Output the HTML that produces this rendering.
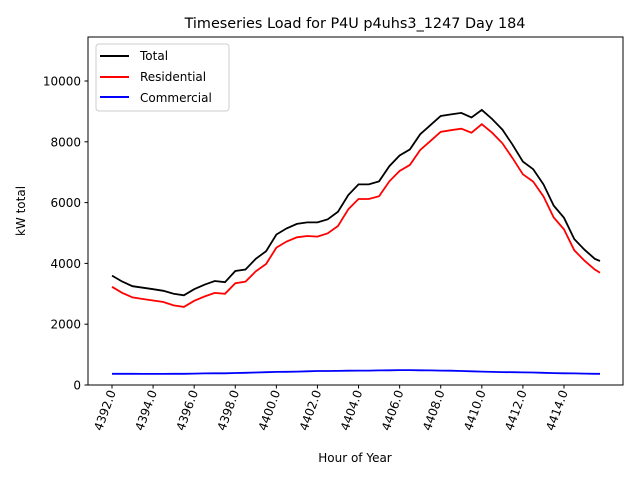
<!DOCTYPE html>
<html><head><meta charset="utf-8"><style>
body{margin:0;background:#fff;}
svg{display:block;font-family:"DejaVu Sans","Liberation Sans",sans-serif;}
</style></head><body>
<svg id="chart" width="640" height="480">
<text x="355" y="28" font-size="14.4" text-anchor="middle">Timeseries Load for P4U p4uhs3_1247  Day 184</text>
<g id="plot"></g>
<rect x="88" y="37" width="535" height="348" fill="none" stroke="#000" stroke-width="1"/>
<text x="355" y="462" font-size="12" text-anchor="middle">Hour of Year</text>
<text transform="translate(25,211) rotate(-90)" font-size="12" text-anchor="middle">kW total</text>
<g>
<rect x="96" y="44" width="133" height="67" rx="3" fill="#fff" fill-opacity="0.8" stroke="#ccc"/>
<line x1="100" y1="56" x2="129" y2="56" stroke="#000" stroke-width="2"/>
<text x="140" y="60" font-size="12">Total</text>
<line x1="100" y1="77" x2="129" y2="77" stroke="red" stroke-width="2"/>
<text x="140" y="81" font-size="12">Residential</text>
<line x1="100" y1="97" x2="129" y2="97" stroke="blue" stroke-width="2"/>
<text x="140" y="102" font-size="12">Commercial</text>
</g>
</svg>
<script>
const hours=[4392,4392.5,4393,4393.5,4394,4394.5,4395,4395.5,4396,4396.5,4397,4397.5,4398,4398.5,4399,4399.5,4400,4400.5,4401,4401.5,4402,4402.5,4403,4403.5,4404,4404.5,4405,4405.5,4406,4406.5,4407,4407.5,4408,4408.5,4409,4409.5,4410,4410.5,4411,4411.5,4412,4412.5,4413,4413.5,4414,4414.5,4415,4415.5,4415.75];
const total=[3600,3400,3250,3200,3150,3100,3000,2950,3150,3300,3420,3380,3750,3800,4150,4400,4950,5150,5300,5350,5350,5450,5700,6250,6600,6600,6700,7200,7550,7750,8250,8550,8850,8900,8950,8800,9050,8750,8400,7900,7350,7100,6600,5900,5500,4800,4450,4150,4080];
const residential=[3230,3030,2880,2830,2780,2730,2620,2570,2770,2910,3030,3000,3350,3400,3740,3980,4520,4720,4860,4900,4880,4990,5230,5780,6120,6120,6210,6700,7040,7240,7730,8030,8330,8380,8430,8300,8580,8300,7950,7460,6930,6690,6200,5510,5120,4430,4090,3800,3690];
const commercial=[370,370,370,365,365,365,370,370,375,380,385,385,395,400,410,420,430,435,440,450,460,460,465,470,475,475,480,485,490,490,485,480,475,470,460,450,440,430,425,420,415,410,400,390,385,380,375,370,370];
const xTicks=[4392,4394,4396,4398,4400,4402,4404,4406,4408,4410,4412,4414];
const yTicks=[0,2000,4000,6000,8000,10000];
const xs=h=>112+(h-4392)*(452/22);
const ys=v=>385-v*0.0304;
const NS="http://www.w3.org/2000/svg";
const g=document.getElementById('plot');
function el(t,a){const e=document.createElementNS(NS,t);for(const k in a)e.setAttribute(k,a[k]);g.appendChild(e);return e;}
yTicks.forEach(v=>{
 const l=el('line',{x1:84.5,x2:88,y1:ys(v),y2:ys(v),stroke:'#000'});
 
 
 const t=el('text',{x:81,y:ys(v)+4.5,'font-size':12,'text-anchor':'end'});t.textContent=v;
 
 
});
xTicks.forEach(h=>{
 const x=xs(h);
 const l=el('line',{x1:x,x2:x,y1:385,y2:388.5,stroke:'#000'});
 
 
 const t=el('text',{transform:`translate(${x+4},392) rotate(-70)`,'font-size':12,'text-anchor':'end'});t.textContent=h.toFixed(1);
 
 
});
function series(arr,color,name){
 const d=arr.map((v,i)=>(i?'L':'M')+xs(hours[i]).toFixed(1)+' '+ys(v).toFixed(1)).join(' ');
 const p=el('path',{d:d,fill:'none',stroke:color,'stroke-width':1.8});
 
 
}
series(total,'#000','total-line');
series(residential,'red','residential-line');
series(commercial,'blue','commercial-line');
</script>
</body></html>
